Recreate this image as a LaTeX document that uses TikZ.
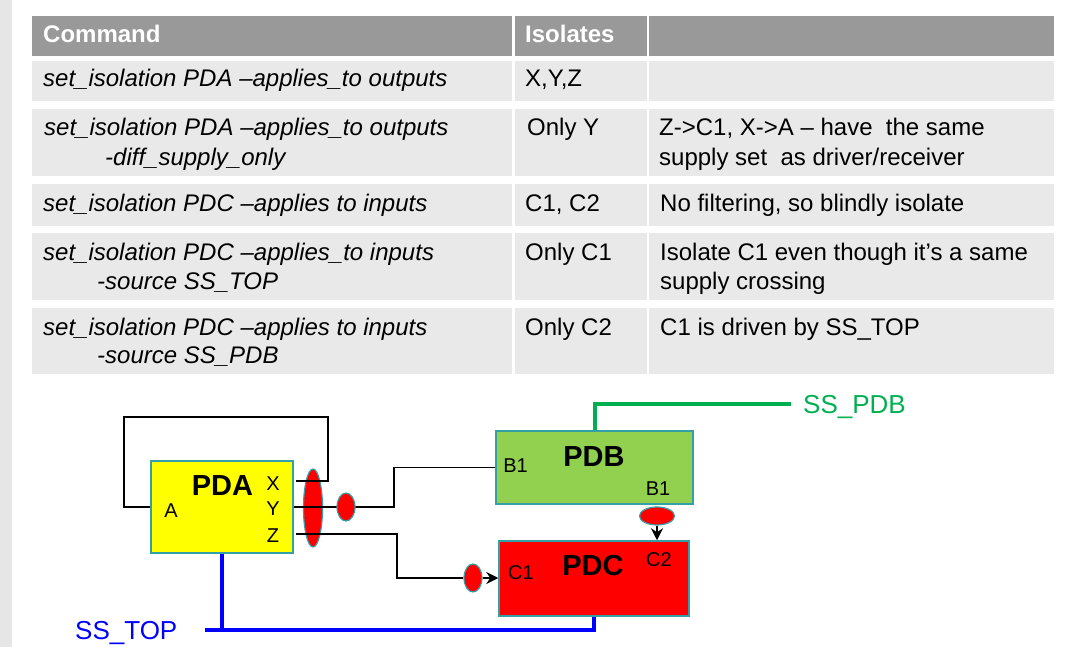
\documentclass[tikz,border=0pt]{standalone}
\usepackage{fontspec}
\setmainfont{Liberation Sans}
\usetikzlibrary{arrows.meta,shapes.geometric}
\definecolor{hdr}{RGB}{153,153,153}
\definecolor{rowbg}{RGB}{233,233,233}
\definecolor{stripc}{RGB}{230,230,230}
\definecolor{bordc}{RGB}{50,160,165}
\definecolor{pdbgreen}{RGB}{146,208,80}
\definecolor{ssgreen}{RGB}{0,176,80}
\definecolor{ssblue}{RGB}{0,0,255}
\definecolor{pdayellow}{RGB}{255,255,0}
\begin{document}
\begin{tikzpicture}[x=1pt,y=-1pt,
  tcell/.style={anchor=base west, inner sep=0pt, font=\fontsize{24}{28}\selectfont},
  icell/.style={tcell, font=\fontsize{24}{28}\selectfont\itshape},
  hcell/.style={tcell, text=white, font=\fontsize{24}{28}\selectfont\bfseries},
  blk/.style={draw=bordc, line width=1.5pt, inner sep=0pt},
  title/.style={anchor=base, inner sep=0pt, font=\fontsize{29}{32}\selectfont\bfseries},
  pin/.style={anchor=base, inner sep=0pt, font=\fontsize{20}{22}\selectfont},
  iso/.style={ellipse, fill=red, draw=bordc, line width=1.2pt, inner sep=0pt},
  wire/.style={draw=black, line width=1.5pt},
  arr/.style={wire, -{Stealth[length=12pt, width=12pt, inset=4pt]}},
  sslbl/.style={anchor=base west, inner sep=0pt, font=\fontsize{26}{30}\selectfont}
]
\useasboundingbox (0,0) rectangle (1080,647);
\fill[stripc] (0,0) rectangle (12,647);
% table backgrounds
\fill[hdr] (32,16) rectangle (512,56);
\fill[hdr] (515,16) rectangle (647,56);
\fill[hdr] (649,16) rectangle (1054,56);
\foreach \ya/\yb in {61/101,109/176,184/226,233/300,308/374}{
  \fill[rowbg] (32,\ya) rectangle (512,\yb);
  \fill[rowbg] (515,\ya) rectangle (647,\yb);
  \fill[rowbg] (649,\ya) rectangle (1054,\yb);
}
% header
\node[hcell] (hcmd) at (43,43) {Command};
\node[hcell] (hiso) at (525,43) {Isolates};
% row 1
\node[icell] (r1a) at (43,87) {set\_isolation PDA \textendash applies\_to outputs};
\node[tcell] (r1b) at (525,87) {X,Y,Z};
% row 2
\node[icell] (r2a) at (44,136) {set\_isolation PDA \textendash applies\_to outputs};
\node[icell] (r2a2) at (105,166) {-diff\_supply\_only};
\node[tcell] (r2b) at (527,136) {Only Y};
\node[tcell] (r2c) at (659,136) {Z->C1, X->A \textendash\ have\ \ the same};
\node[tcell] (r2c2) at (659,166) {supply set\ \ as driver/receiver};
% row 3
\node[icell] (r3a) at (43,212) {set\_isolation PDC \textendash applies to inputs};
\node[tcell] (r3b) at (525,212) {C1, C2};
\node[tcell] (r3c) at (660,212) {No filtering, so blindly isolate};
% row 4
\node[icell] (r4a) at (43,261) {set\_isolation PDC \textendash applies\_to inputs};
\node[icell] (r4a2) at (97,290) {-source SS\_TOP};
\node[tcell] (r4b) at (525,261) {Only C1};
\node[tcell] (r4c) at (660,261) {Isolate C1 even though it’s a same};
\node[tcell] (r4c2) at (660,290) {supply crossing};
% row 5
\node[icell] (r5a) at (43,335) {set\_isolation PDC \textendash applies to inputs};
\node[icell] (r5a2) at (97,363) {-source SS\_PDB};
\node[tcell] (r5b) at (525,335) {Only C2};
\node[tcell] (r5c) at (660,335) {C1 is driven by SS\_TOP};

% ---------------- diagram ----------------
\node[blk, fill=pdayellow, minimum width=142pt, minimum height=92pt] (PDA) at (222,507) {};
\node[blk, fill=pdbgreen, minimum width=197pt, minimum height=73pt] (PDB) at (594.5,467.5) {};
\node[blk, fill=red, minimum width=190pt, minimum height=75pt] (PDC) at (594,578.5) {};

\node[title] (tPDA) at (222.5,495) {PDA};
\node[pin] (pA) at (171,517) {A};
\node[pin] (pX) at (273,490) {X};
\node[pin] (pY) at (273,515) {Y};
\node[pin] (pZ) at (273,542) {Z};
\node[title] (tPDB) at (594,466) {PDB};
\node[pin] (pB1a) at (515.5,472) {B1};
\node[pin] (pB1b) at (658,495) {B1};
\node[title] (tPDC) at (593,575) {PDC};
\node[pin] (pC1) at (521,579) {C1};
\node[pin] (pC2) at (659,566) {C2};

% big isolation ellipse (under the wires)
\node[iso, minimum width=19pt, minimum height=78pt] (isoA) at (313,508) {};

\coordinate (xs) at (296,481);
\coordinate (zs) at (296,534);
\draw[wire] (xs) -| (328,417) -| (124,507) -- (PDA.west);
\draw[wire] (PDA.east) -- (394,507) |- (PDB.west);
\node[iso, minimum width=18pt, minimum height=28pt] (isoY) at (346,507) {};
\node[iso, minimum width=18pt, minimum height=28pt] (isoC1) at (473,578) {};
\draw[wire] (zs) -- (397,534) |- (isoC1.west);
\draw[arr] (isoC1.east) -- (isoC1.east -| PDC.west);
\node[iso, minimum width=35pt, minimum height=18pt] (isoC2) at (657,516) {};
\draw[arr] (isoC2.south) -- (isoC2.south |- PDC.north);

% supply sets
\node[sslbl, text=ssblue] (sstop) at (75,639) {SS\_TOP};
\coordinate (tl) at (205,630);
\coordinate (tr) at (594,630);
\draw[ssblue, line width=4pt] (tl) -- (tr) -- (PDC.south);
\draw[ssblue, line width=4pt] (PDA.south) -- (PDA.south |- tl);
\node[sslbl, text=ssgreen] (sspdb) at (803,413) {SS\_PDB};
\coordinate (gr) at (791,404);
\draw[ssgreen, line width=4pt] (PDB.north) |- (gr);
\end{tikzpicture}
\end{document}
